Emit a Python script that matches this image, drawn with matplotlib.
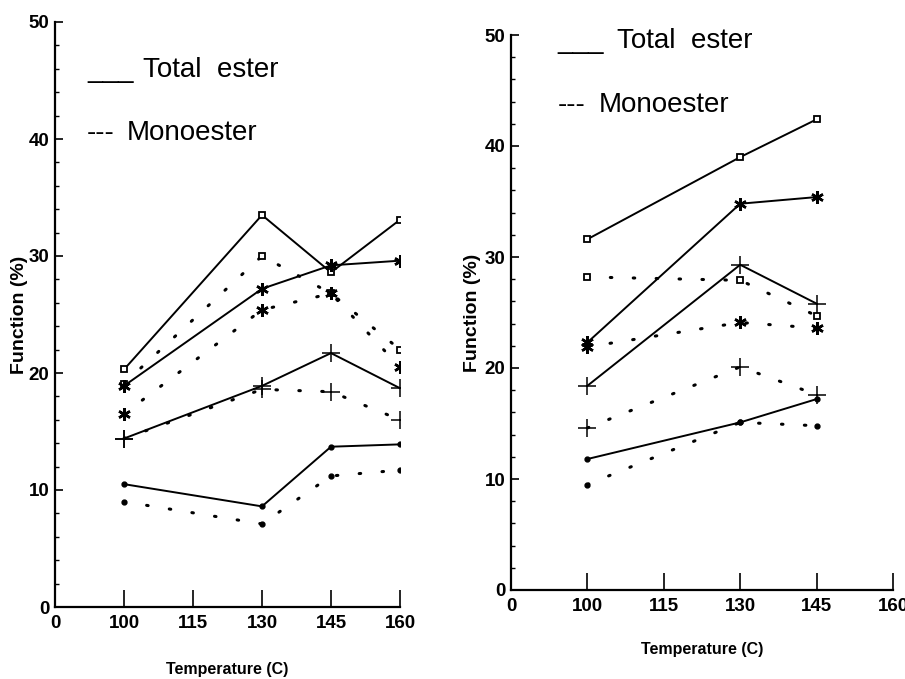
import matplotlib
matplotlib.use("Agg")
import matplotlib.pyplot as plt
from matplotlib.ticker import MultipleLocator

# ---- data ----
categories = ["0", "100", "115", "130", "145", "160"]

left_temps = [100, 130, 145, 160]
left_total_square = [20.3, 33.5, 28.6, 33.1]
left_mono_square = [19.1, 30.0, 26.8, 22.0]
left_total_star = [18.9, 27.2, 29.2, 29.6]
left_mono_star = [16.5, 25.4, 26.8, 20.5]
left_total_plus = [14.4, 18.9, 21.7, 18.7]
left_mono_plus = [14.4, 18.6, 18.4, 16.0]
left_total_dot = [10.5, 8.6, 13.7, 13.9]
left_mono_dot = [9.0, 7.1, 11.2, 11.7]

right_temps = [100, 130, 145]
right_total_square = [31.6, 39.0, 42.4]
right_mono_square = [28.2, 27.9, 24.7]
right_total_star = [22.3, 34.8, 35.4]
right_mono_star = [21.9, 24.1, 23.6]
right_total_plus = [18.4, 29.3, 25.8]
right_mono_plus = [14.6, 20.1, 17.6]
right_total_dot = [11.8, 15.1, 17.2]
right_mono_dot = [9.5, 15.1, 14.8]

y_ticks = [0, 10, 20, 30, 40, 50]

plt.rcParams["font.family"] = ["Liberation Sans", "DejaVu Sans"]

fig = plt.figure(figsize=(9.05, 6.79), dpi=100)
W, H = 905, 679


def ax_rect(x0, x1, y0, y50):
    return [x0 / W, (H - y0) / H, (x1 - x0) / W, (y0 - y50) / H]


ax1 = fig.add_axes(ax_rect(55, 400, 607, 22))
ax2 = fig.add_axes(ax_rect(511, 893, 590, 35))

ASTER = (6, 2, 0)
DOT_LS = (0, (0.5, 7))


def pos(temps):
    return [categories.index(str(t)) for t in temps]


def series(ax, temps, vals, marker, dotted, ms, mew, mfc):
    if dotted:
        ax.plot(pos(temps), vals, color="black", lw=2.2, linestyle=DOT_LS,
                dash_capstyle="round", zorder=2)
        ax.plot(pos(temps), vals, linestyle="none", marker=marker, ms=ms,
                mew=mew, mfc=mfc, mec="black", color="black", zorder=3)
    else:
        ax.plot(pos(temps), vals, color="black", lw=1.4, marker=marker, ms=ms,
                mew=mew, mfc=mfc, mec="black", zorder=3)


def draw(ax, temps, ts, ms_, tst, mst, tp, mp, td, md):
    series(ax, temps, ts, "s", False, 4.5, 1.3, "white")
    series(ax, temps, ms_, "s", True, 4.5, 1.3, "white")
    series(ax, temps, tst, ASTER, False, 9, 1.8, "black")
    series(ax, temps, mst, ASTER, True, 9, 1.8, "black")
    series(ax, temps, tp, "+", False, 13, 1.1, "black")
    series(ax, temps, mp, "+", True, 13, 1.1, "black")
    series(ax, temps, td, "o", False, 3.5, 1, "black")
    series(ax, temps, md, "o", True, 3.5, 1, "black")


draw(ax1, left_temps, left_total_square, left_mono_square, left_total_star,
     left_mono_star, left_total_plus, left_mono_plus, left_total_dot, left_mono_dot)
draw(ax2, right_temps, right_total_square, right_mono_square, right_total_star,
     right_mono_star, right_total_plus, right_mono_plus, right_total_dot, right_mono_dot)

for ax in (ax1, ax2):
    ax.set_xlim(0, len(categories) - 1)
    ax.set_ylim(0, 50)
    ax.set_xticks(range(len(categories)))
    ax.set_xticklabels(categories)
    ax.set_yticks(y_ticks)
    ax.yaxis.set_minor_locator(MultipleLocator(2))
    ax.spines["top"].set_visible(False)
    ax.spines["right"].set_visible(False)
    ax.spines["left"].set_linewidth(1.6)
    ax.spines["bottom"].set_linewidth(1.6)
    ax.tick_params(axis="x", direction="in", length=12, width=1.2, pad=6,
                   labelsize=13.5)
    ax.tick_params(axis="y", which="major", direction="in", length=6, width=1.2,
                   pad=4, labelsize=13.5)
    ax.tick_params(axis="y", which="minor", direction="in", length=3, width=1.0)
    for lab in ax.get_xticklabels() + ax.get_yticklabels():
        lab.set_fontweight("bold")
    ax.set_xlabel("Temperature (C)", fontsize=11.5, fontweight="bold")
    ax.set_ylabel("Function (%)", fontsize=14, fontweight="bold")
    ax.set_clip_on(False)

ax1.xaxis.set_label_coords(0.5, -0.094)
ax1.yaxis.set_label_coords(-0.078, 0.5)
ax2.xaxis.set_label_coords(0.5, -0.094)
ax2.yaxis.set_label_coords(-0.079, 0.5)

# hide the x tick at 0 (corner)
for ax in (ax1, ax2):
    ax.xaxis.get_major_ticks()[0].tick1line.set_visible(False)

# legend texts
fig.text(87 / W, 1 - 77 / H, "___", fontsize=20, va="baseline")
fig.text(143 / W, 1 - 77 / H, "Total  ester", fontsize=20, va="baseline")
fig.text(87 / W, 1 - 140 / H, "---", fontsize=20, va="baseline")
fig.text(127 / W, 1 - 140 / H, "Monoester", fontsize=20, va="baseline")

fig.text(557 / W, 1 - 48 / H, "___", fontsize=20, va="baseline")
fig.text(617 / W, 1 - 48 / H, "Total  ester", fontsize=20, va="baseline")
fig.text(558 / W, 1 - 112 / H, "---", fontsize=20, va="baseline")
fig.text(599 / W, 1 - 112 / H, "Monoester", fontsize=20, va="baseline")

fig.savefig("out.png", dpi=100)
